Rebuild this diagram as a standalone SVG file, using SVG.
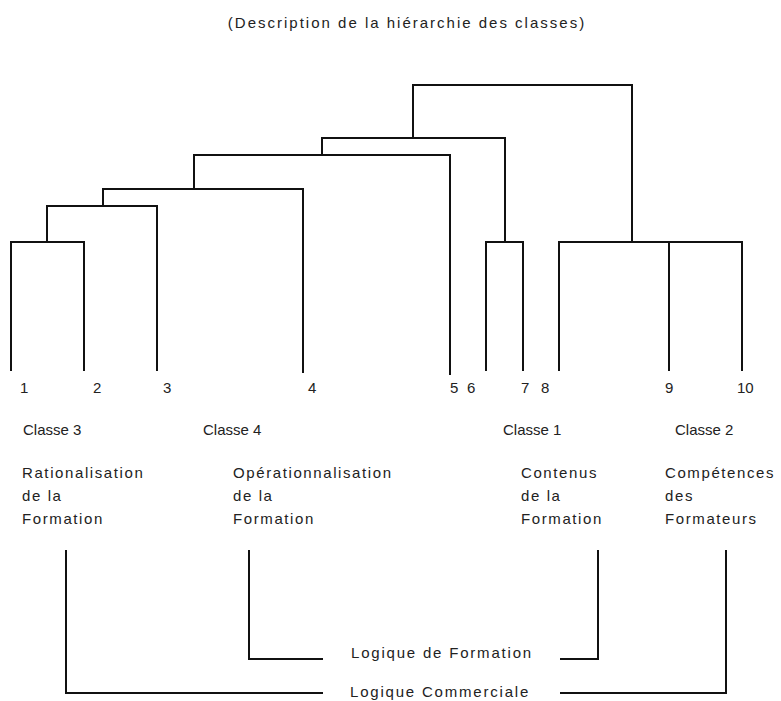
<svg xmlns="http://www.w3.org/2000/svg" width="781" height="701" viewBox="0 0 781 701">
<style>
.ln{fill:none;stroke:#111;stroke-width:2;stroke-linecap:square;stroke-linejoin:miter}
.t{font-family:"Liberation Sans",Arial,sans-serif;fill:#222;font-size:15px}
.lab{font-family:"Liberation Sans",Arial,sans-serif;fill:#222;font-size:15px;letter-spacing:1.6px}
.lg{font-family:"Liberation Sans",Arial,sans-serif;fill:#222;font-size:15px;letter-spacing:1.8px}
.ttl{font-family:"Liberation Sans",Arial,sans-serif;fill:#222;font-size:15px;letter-spacing:2px}
</style>
<rect width="781" height="701" fill="#fff"/>
<text class="ttl" x="407" y="28" text-anchor="middle">(Description de la hiérarchie des classes)</text>
<g id="connectors">
<path class="ln" d="M11,370V242H84V370"/>
<path class="ln" d="M47,242V206H157V370"/>
<path class="ln" d="M103,206V189H303V372"/>
<path class="ln" d="M194,189V155H450V374"/>
<path class="ln" d="M486,370V242H523V370"/>
<path class="ln" d="M322,155V138H505V242"/>
<path class="ln" d="M559,370V242H742V370"/>
<path class="ln" d="M669,242V370"/>
<path class="ln" d="M413,138V85H632V242"/>
<path class="ln" d="M66,551V693H322M561,693H726V551"/>
<path class="ln" d="M249,551V659H322M561,659H598V551"/>
</g>
<g id="leaves">
<text class="t" x="20" y="393">1</text>
<text class="t" x="93" y="393">2</text>
<text class="t" x="163" y="393">3</text>
<text class="t" x="308" y="393">4</text>
<text class="t" x="450" y="393">5</text>
<text class="t" x="467" y="393">6</text>
<text class="t" x="521" y="393">7</text>
<text class="t" x="541" y="393">8</text>
<text class="t" x="665" y="393">9</text>
<text class="t" x="737" y="393">10</text>
</g>
<g id="classe3">
<text class="t" x="23" y="435">Classe 3</text>
<text class="lab"><tspan x="22" y="478">Rationalisation</tspan><tspan x="22" y="501">de la</tspan><tspan x="22" y="524">Formation</tspan></text>
</g>
<g id="classe4">
<text class="t" x="203" y="435">Classe 4</text>
<text class="lab"><tspan x="233" y="478">Opérationnalisation</tspan><tspan x="233" y="501">de la</tspan><tspan x="233" y="524">Formation</tspan></text>
</g>
<g id="classe1">
<text class="t" x="503" y="435">Classe 1</text>
<text class="lab"><tspan x="521" y="478">Contenus</tspan><tspan x="521" y="501">de la</tspan><tspan x="521" y="524">Formation</tspan></text>
</g>
<g id="classe2">
<text class="t" x="675" y="435">Classe 2</text>
<text class="lab"><tspan x="665" y="478">Compétences</tspan><tspan x="665" y="501">des</tspan><tspan x="665" y="524">Formateurs</tspan></text>
</g>
<g id="logique-formation">
<text class="lg" x="351" y="658">Logique de Formation</text>
</g>
<g id="logique-commerciale">
<text class="lg" x="350" y="697">Logique Commerciale</text>
</g>
</svg>
